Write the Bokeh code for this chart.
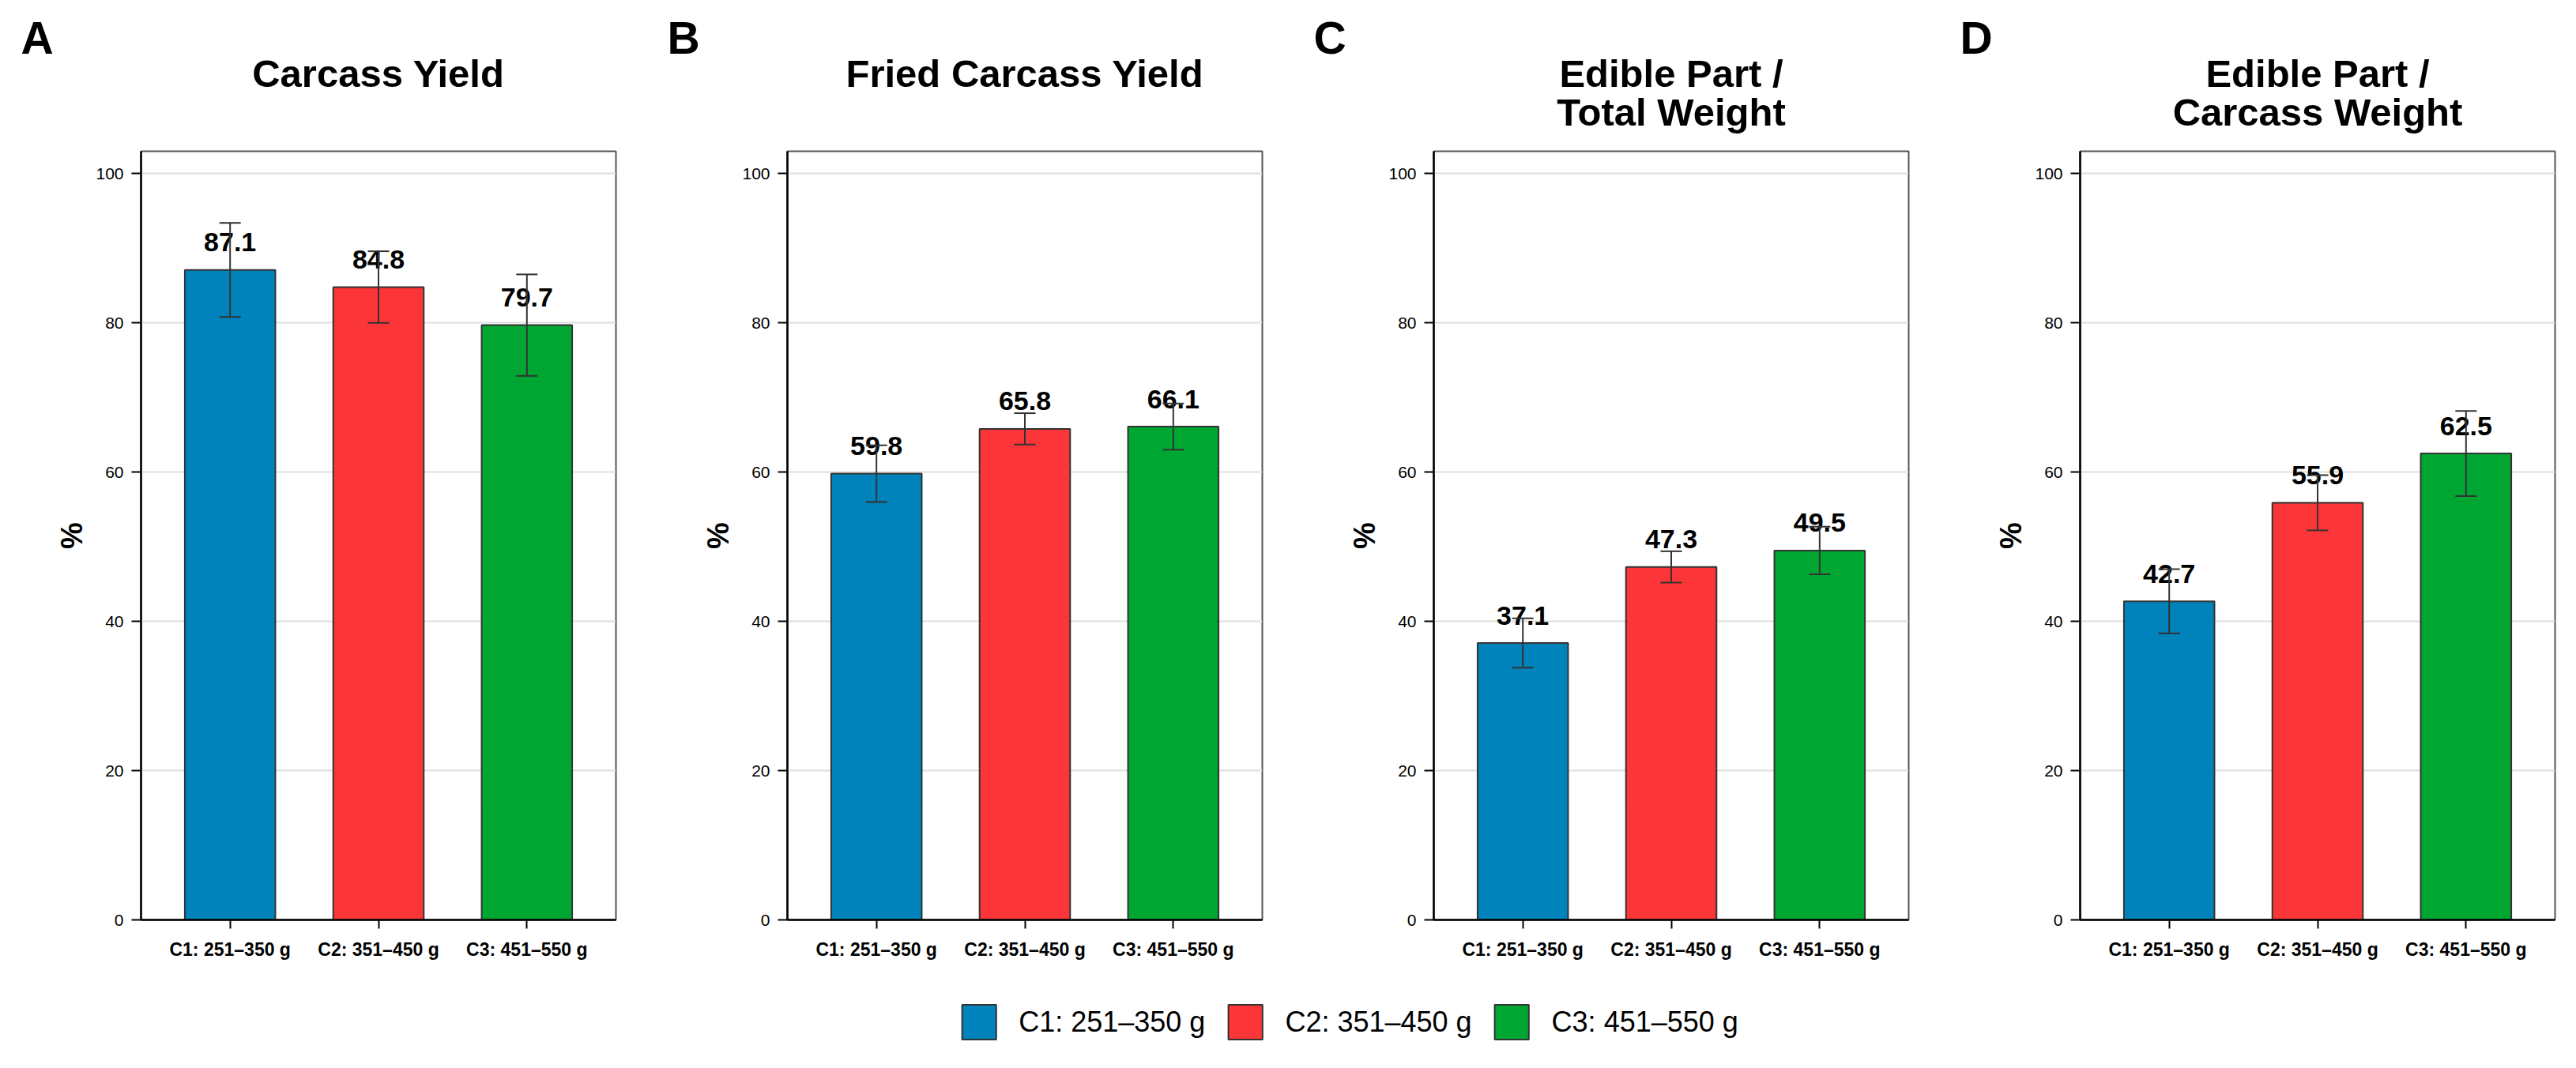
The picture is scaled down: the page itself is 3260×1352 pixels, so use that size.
from bokeh.plotting import figure
from bokeh.models import (ColumnDataSource, FactorRange, Range1d, FixedTicker, Whisker,
                          TeeHead, Legend, LegendItem)
from bokeh.layouts import column, row
from bokeh.core.properties import value
from bokeh.embed import file_html
from bokeh.resources import INLINE

# ---------------- data ----------------
categories = ["C1: 251–350 g", "C2: 351–450 g", "C3: 451–550 g"]
colors = ["#0082BA", "#FC3638", "#00A632"]
panel_letters = ["A", "B", "C", "D"]
panel_titles = ["Carcass Yield", "Fried Carcass Yield",
                "Edible Part /\nTotal Weight", "Edible Part /\nCarcass Weight"]

carcass_yield = [87.1, 84.8, 79.7]
carcass_yield_err = [6.3, 4.8, 6.8]
fried_carcass_yield = [59.8, 65.8, 66.1]
fried_carcass_yield_err = [3.8, 2.1, 3.1]
edible_total_weight = [37.1, 47.3, 49.5]
edible_total_weight_err = [3.3, 2.1, 3.2]
edible_carcass_weight = [42.7, 55.9, 62.5]
edible_carcass_weight_err = [4.3, 3.7, 5.7]

y_ticks = [0, 20, 40, 60, 80, 100]
y_axis_label = "%"

# ---------------- layout constants ----------------
FONT = "Liberation Sans"
FRAME_W, FRAME_H = 601, 973
LEFTS = [178, 170, 170, 170]
RIGHTS = [47, 47, 47, 10]
TOP, BOTTOM = 11, 60
HEADER_H = 180
LEGEND_H = 100
INK = "#333333"

panel_values = [carcass_yield, fried_carcass_yield, edible_total_weight, edible_carcass_weight]
panel_errors = [carcass_yield_err, fried_carcass_yield_err, edible_total_weight_err,
                edible_carcass_weight_err]


def make_panel(vals, errs, left, right):
    src = ColumnDataSource(dict(
        cat=categories, val=vals,
        upper=[v + e for v, e in zip(vals, errs)],
        lower=[v - e for v, e in zip(vals, errs)],
        color=colors, label=[f"{v:.1f}" for v in vals]))
    p = figure(x_range=FactorRange(*categories, range_padding=0.1, range_padding_units="absolute"),
               y_range=Range1d(0, 103),
               width=left + FRAME_W + right, height=TOP + FRAME_H + BOTTOM,
               min_border_left=left, min_border_right=right,
               min_border_top=TOP, min_border_bottom=BOTTOM,
               toolbar_location=None, output_backend="svg", frame_align=False)
    p.vbar(x="cat", top="val", width=0.61, source=src, fill_color="color",
           line_color=INK, line_width=2)
    p.text(x="cat", y="val", text="label", source=src, text_align="center",
           text_baseline="alphabetic", y_offset=-35, text_font=value(FONT),
           text_font_size="34px", text_font_style="bold", text_color="black")
    wh = Whisker(base="cat", upper="upper", lower="lower", source=src,
                 line_color=INK, line_width=2, level="overlay",
                 upper_head=TeeHead(size=27, line_color=INK, line_width=2),
                 lower_head=TeeHead(size=27, line_color=INK, line_width=2))
    p.add_layout(wh)

    p.outline_line_color = "#555555"
    p.outline_line_width = 2
    p.xgrid.grid_line_color = None
    p.ygrid.ticker = FixedTicker(ticks=y_ticks)
    p.ygrid.grid_line_color = "#DEDEDE"
    p.ygrid.grid_line_width = 2

    xa = p.xaxis[0]
    xa.axis_line_color = "black"
    xa.axis_line_width = 2.5
    xa.major_tick_line_color = "black"
    xa.major_tick_line_width = 2
    xa.major_tick_out = 11
    xa.major_tick_in = 0
    xa.major_label_standoff = 13
    xa.major_label_text_font = FONT
    xa.major_label_text_font_size = "23px"
    xa.major_label_text_font_style = "bold"
    xa.major_label_text_color = "black"

    ya = p.yaxis[0]
    ya.ticker = FixedTicker(ticks=y_ticks, minor_ticks=[])
    ya.axis_line_color = "black"
    ya.axis_line_width = 2.5
    ya.major_tick_line_color = "black"
    ya.major_tick_line_width = 2
    ya.major_tick_out = 12
    ya.major_tick_in = 0
    ya.minor_tick_line_color = None
    ya.major_label_standoff = 10
    ya.major_label_text_font = FONT
    ya.major_label_text_font_size = "21px"
    ya.major_label_text_color = "black"
    ya.axis_label = y_axis_label
    ya.axis_label_text_font = FONT
    ya.axis_label_text_font_size = "38px"
    ya.axis_label_text_font_style = "bold"
    ya.axis_label_text_color = "black"
    ya.axis_label_standoff = 6
    return p


panels = [make_panel(v, e, l, r)
          for v, e, l, r in zip(panel_values, panel_errors, LEFTS, RIGHTS)]
widths = [l + FRAME_W + r for l, r in zip(LEFTS, RIGHTS)]
total_w = sum(widths)
frame_lefts = [sum(widths[:i]) + LEFTS[i] for i in range(4)]

# ---------------- header (panel letters + titles) ----------------
hdr = figure(width=total_w, height=HEADER_H, x_range=Range1d(0, total_w),
             y_range=Range1d(HEADER_H, 0), x_axis_type=None, y_axis_type=None,
             min_border=0, toolbar_location=None, output_backend="svg",
             outline_line_color=None, frame_align=False)
hdr.text(x=[fl - 152 for fl in frame_lefts], y=[47] * 4, text=panel_letters,
         text_align="left", text_baseline="alphabetic", text_font=value(FONT),
         text_font_size="57px", text_font_style="bold", text_color="black")
hdr.text(x=[fl + FRAME_W / 2 for fl in frame_lefts], y=[65] * 4, text=panel_titles,
         text_align="center", text_baseline="top", text_font=value(FONT),
         text_font_size="49px", text_font_style="bold", text_color="black",
         text_line_height=0.91)

# ---------------- legend ----------------
lg_w = frame_lefts[3] + FRAME_W
lg = figure(width=lg_w, height=LEGEND_H, x_range=FactorRange(*categories),
            y_range=Range1d(0, 1), x_axis_type=None, y_axis_type=None,
            min_border_left=LEFTS[0], min_border_right=0, min_border_top=0,
            min_border_bottom=0, toolbar_location=None, output_backend="svg",
            outline_line_color=None, frame_align=False)
items = []
for cat, col in zip(categories, colors):
    r = lg.vbar(x=[cat], top=[float("nan")], width=0.6, fill_color=col,
                line_color=INK, line_width=2)
    items.append(LegendItem(label=cat, renderers=[r]))
legend = Legend(items=items, orientation="horizontal", location="top_center",
                glyph_width=54, glyph_height=55, label_standoff=24, spacing=23,
                padding=5, margin=42, label_text_font=FONT, label_text_font_size="36px",
                label_text_color="black", border_line_color=None, background_fill_alpha=0)
lg.add_layout(legend)

layout = column(hdr, row(*panels), lg)
open("out.html", "w").write(file_html(layout, INLINE))
